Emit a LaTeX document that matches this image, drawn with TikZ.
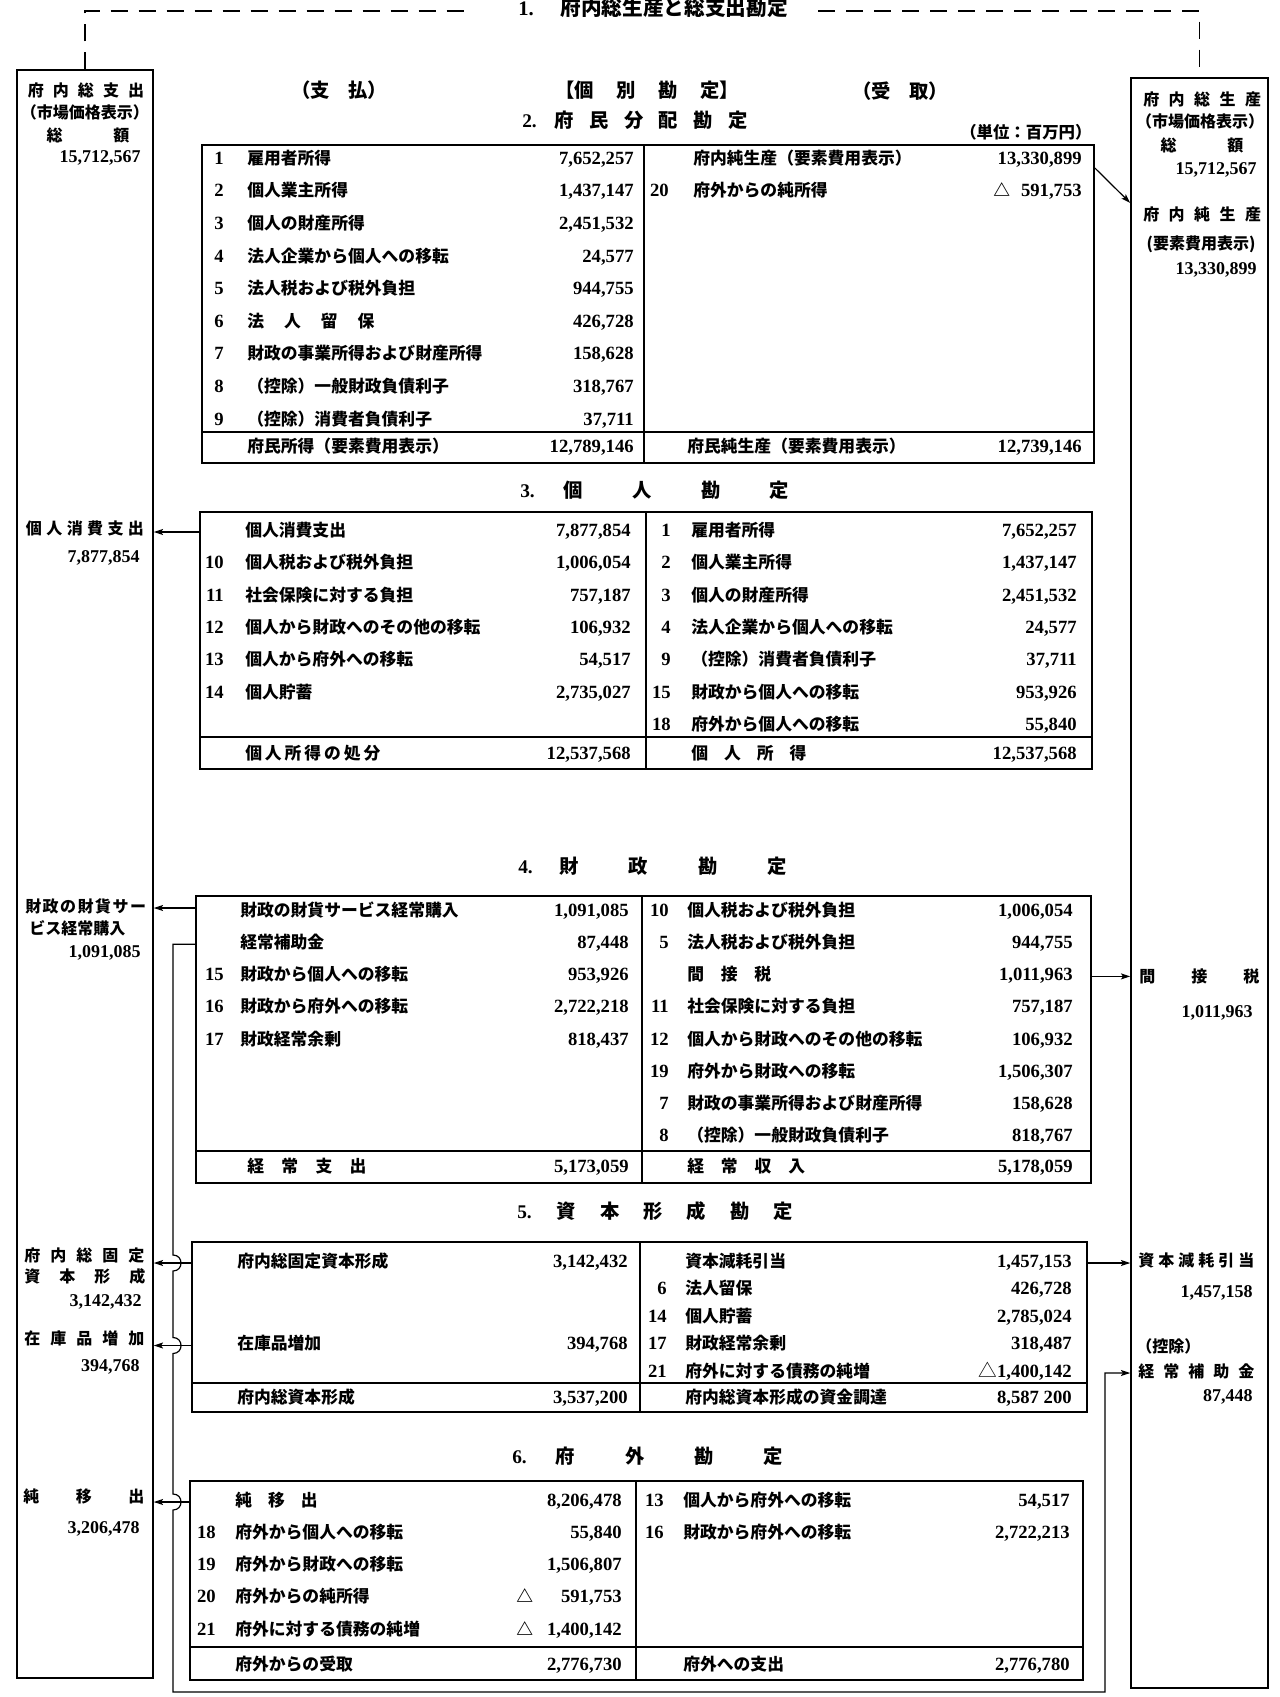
\documentclass[tikz,border=0pt]{standalone}
\usepackage{fontspec}
\setmainfont{Noto Sans CJK JP}
\newfontfamily\numfont{Liberation Serif}
\newfontfamily\jpf{Noto Sans CJK JP}
\usetikzlibrary{arrows.meta,fit}
\newcommand\gp[1]{\hspace{#1pt}}
\newcommand\acrow[8]{%
  \node[numtxt,anchor=east] (#1n) at (#3,#2) {#4};
  \node[lab,anchor=west] (#1l) at (#5,#2) {#6};
  \node[numtxt,anchor=east] (#1v) at (#7,#2) {#8};}
\begin{document}
\begin{tikzpicture}[x=0.75pt,y=-0.75pt,
  lab/.style={inner sep=0pt,text height=9pt,text depth=2.5pt,font=\fontsize{12.6pt}{14pt}\selectfont\bfseries},
  numtxt/.style={inner sep=0pt,text height=9pt,text depth=2.5pt,font=\fontsize{14pt}{16pt}\selectfont\numfont\bfseries},
  ttl/.style={inner sep=0pt,text height=10pt,text depth=2.5pt,font=\fontsize{14.5pt}{16pt}\selectfont\bfseries},
  bxt/.style={inner sep=0pt,text height=9pt,text depth=2.5pt,font=\fontsize{12pt}{14pt}\selectfont\bfseries},
  bxn/.style={inner sep=0pt,text height=9pt,text depth=2.5pt,font=\fontsize{13.5pt}{15pt}\selectfont\numfont\bfseries},
  tbl/.style={draw,line width=1.3pt,inner sep=0pt},
  sidebox/.style={draw,line width=1.1pt,inner sep=0pt},
  inner/.style={line width=1.1pt},
  arr/.style={line width=0.9pt,-{Stealth[length=7pt,width=4.5pt,inset=1.5pt]}},
  conn/.style={line width=0.9pt},
  dsh/.style={line width=1.1pt,dash pattern=on 13pt off 8pt}]
\useasboundingbox (0,0) rectangle (1280,1697);

% ---------- side boxes ----------
\coordinate (lbA) at (17,70); \coordinate (lbB) at (153,1678);
\node[sidebox,fit=(lbA)(lbB)] (lbox) {};
\coordinate (rbA) at (1131,78); \coordinate (rbB) at (1268,1688);
\node[sidebox,fit=(rbA)(rbB)] (rbox) {};

% ---------- title 1 and dashed link ----------
\node[anchor=west,inner sep=0pt,text height=10pt,text depth=2.5pt,font=\fontsize{15.5pt}{17pt}\selectfont\bfseries] (t1) at (518,10) {{\numfont 1.}\gp{20}府内総生産と総支出勘定};
\coordinate (dL) at (472,11);
\coordinate (dR) at (818,11);
\draw[dsh] (lbox.north) |- (dL);
\draw[dsh] (dR) -| (rbox.north);

% ---------- headings ----------
\node[ttl] (hpay) at (339,92) {（支\gp{14}払）};
\node[ttl,anchor=west] (hind) at (555,92) {【個\gp{17}別\gp{17}勘\gp{17}定】};
\node[ttl] (hrec) at (900,93) {（受\gp{14}取）};
\node[anchor=west,inner sep=0pt,font=\fontsize{12.3pt}{14pt}\selectfont\bfseries] (unit) at (960,132) {（単位：百万円）};

% ---------- left box texts ----------
\node[bxt] (lb1) at (86,92) {府\gp{6.8}内\gp{6.8}総\gp{6.8}支\gp{6.8}出};
\node[bxt] (lb2) at (85,114) {（市場価格表示）};
\node[bxt] (lb3) at (88,137) {総\gp{38}額};
\node[bxn,anchor=east] (lb4) at (141,158) {15,712,567};
\node[bxt] (lb5) at (85,530) {個\gp{3.3}人\gp{3.3}消\gp{3.3}費\gp{3.3}支\gp{3.3}出};
\node[bxn,anchor=east] (lb6) at (140,558) {7,877,854};
\node[bxt,anchor=west] (lb7) at (25,908) {財\gp{1.1}政\gp{1.1}の\gp{1.1}財\gp{1.1}貨\gp{1.1}サ\gp{1.1}ー};
\node[bxt,anchor=west] (lb8) at (29,930) {ビス経常購入};
\node[bxn,anchor=east] (lb9) at (141,953) {1,091,085};
\node[bxt,anchor=west] (lb10) at (24,1257) {府\gp{7.5}内\gp{7.5}総\gp{7.5}固\gp{7.5}定};
\node[bxt,anchor=west] (lb11) at (24,1278) {資\gp{14.25}本\gp{14.25}形\gp{14.25}成};
\node[bxn,anchor=east] (lb12) at (142,1302) {3,142,432};
\node[bxt,anchor=west] (lb13) at (24,1340) {在\gp{7.5}庫\gp{7.5}品\gp{7.5}増\gp{7.5}加};
\node[bxn,anchor=east] (lb14) at (140,1367) {394,768};
\node[bxt,anchor=west] (lb15) at (23,1498) {純\gp{27.4}移\gp{27.4}出};
\node[bxn,anchor=east] (lb16) at (140,1529) {3,206,478};

% ---------- right box texts ----------
\node[bxt,anchor=west] (rb1) at (1143,101) {府\gp{7.1}内\gp{7.1}総\gp{7.1}生\gp{7.1}産};
\node[bxt] (rb2) at (1200,123) {（市場価格表示）};
\node[bxt] (rb3) at (1202,147) {総\gp{38}額};
\node[bxn,anchor=east] (rb4) at (1257,170) {15,712,567};
\node[bxt,anchor=west] (rb5) at (1143,216) {府\gp{7.1}内\gp{7.1}純\gp{7.1}生\gp{7.1}産};
\node[bxt] (rb6) at (1201,245) {(要素費用表示)};
\node[bxn,anchor=east] (rb7) at (1257,270) {13,330,899};
\node[bxt,anchor=west] (rb8) at (1139,978) {間\gp{27}接\gp{27}税};
\node[bxn,anchor=east] (rb9) at (1253,1013) {1,011,963};
\node[bxt,anchor=west] (rb10) at (1138,1262) {資\gp{3}本\gp{3}減\gp{3}耗\gp{3}引\gp{3}当};
\node[bxn,anchor=east] (rb11) at (1253,1293) {1,457,158};
\node[bxt,anchor=west] (rb12) at (1136,1348) {（控除）};
\node[bxt,anchor=west] (rb13) at (1138,1373) {経\gp{6.75}常\gp{6.75}補\gp{6.75}助\gp{6.75}金};
\node[bxn,anchor=east] (rb14) at (1253,1397) {87,448};

% ---------- 2. 府民分配勘定 ----------
\node[ttl,anchor=west] (ti2) at (522,122) {{\numfont 2.}\gp{13.5}府\gp{11.5}民\gp{11.5}分\gp{11.5}配\gp{11.5}勘\gp{11.5}定};
\coordinate (t2A) at (202,145); \coordinate (t2B) at (1094,463);
\node[tbl,fit=(t2A)(t2B)] (t2) {};
\draw[inner] (644,145) -- (644,463);
\draw[inner] (202,432) -- (1094,432);
\acrow{t2l0}{160}{224}{1}{247}{雇用者所得}{634}{7,652,257}
\acrow{t2l1}{192.6}{224}{2}{247}{個人業主所得}{634}{1,437,147}
\acrow{t2l2}{225.2}{224}{3}{247}{個人の財産所得}{634}{2,451,532}
\acrow{t2l3}{257.8}{224}{4}{247}{法人企業から個人への移転}{634}{24,577}
\acrow{t2l4}{290.4}{224}{5}{247}{法人税および税外負担}{634}{944,755}
\acrow{t2l5}{323}{224}{6}{247}{法\gp{15}人\gp{15}留\gp{15}保}{634}{426,728}
\acrow{t2l6}{355.6}{224}{7}{247}{財政の事業所得および財産所得}{634}{158,628}
\acrow{t2l7}{388.2}{224}{8}{247}{（控除）一般財政負債利子}{634}{318,767}
\acrow{t2l8}{420.8}{224}{9}{247}{（控除）消費者負債利子}{634}{37,711}
\acrow{t2lt}{448}{224}{}{247}{府民所得（要素費用表示）}{634}{12,789,146}
\acrow{t2r0}{160}{669}{}{693}{府内純生産（要素費用表示）}{1082}{13,330,899}
\acrow{t2r1}{192.6}{669}{20}{693}{府外からの純所得}{1082}{591,753}
\node[lab,anchor=west] (t2tri) at (993,192.6) {△};
\acrow{t2rt}{448}{669}{}{687}{府民純生産（要素費用表示）}{1082}{12,739,146}

% ---------- 3. 個人勘定 ----------
\node[ttl,anchor=west] (ti3) at (520,492) {{\numfont 3.}\gp{21.75}個\gp{37}人\gp{37}勘\gp{37}定};
\coordinate (t3A) at (200,512); \coordinate (t3B) at (1092,769);
\node[tbl,fit=(t3A)(t3B)] (t3) {};
\draw[inner] (646,512) -- (646,769);
\draw[inner] (200,737) -- (1092,737);
\acrow{t3l0}{532}{224}{}{245}{個人消費支出}{631}{7,877,854}
\acrow{t3l1}{564.4}{224}{10}{245}{個人税および税外負担}{631}{1,006,054}
\acrow{t3l2}{596.8}{224}{11}{245}{社会保険に対する負担}{631}{757,187}
\acrow{t3l3}{629.2}{224}{12}{245}{個人から財政へのその他の移転}{631}{106,932}
\acrow{t3l4}{661.6}{224}{13}{245}{個人から府外への移転}{631}{54,517}
\acrow{t3l5}{694}{224}{14}{245}{個人貯蓄}{631}{2,735,027}
\acrow{t3lt}{755}{224}{}{245}{個\gp{2.2}人\gp{2.2}所\gp{2.2}得\gp{2.2}の\gp{2.2}処\gp{2.2}分}{631}{12,537,568}
\acrow{t3r0}{532}{671}{1}{691}{雇用者所得}{1077}{7,652,257}
\acrow{t3r1}{564.4}{671}{2}{691}{個人業主所得}{1077}{1,437,147}
\acrow{t3r2}{596.8}{671}{3}{691}{個人の財産所得}{1077}{2,451,532}
\acrow{t3r3}{629.2}{671}{4}{691}{法人企業から個人への移転}{1077}{24,577}
\acrow{t3r4}{661.6}{671}{9}{691}{（控除）消費者負債利子}{1077}{37,711}
\acrow{t3r5}{694}{671}{15}{691}{財政から個人への移転}{1077}{953,926}
\acrow{t3r6}{726.4}{671}{18}{691}{府外から個人への移転}{1077}{55,840}
\acrow{t3rt}{755}{671}{}{691}{個\gp{12}人\gp{12}所\gp{12}得}{1077}{12,537,568}

% ---------- 4. 財政勘定 ----------
\node[ttl,anchor=west] (ti4) at (518,868) {{\numfont 4.}\gp{20}財\gp{37.5}政\gp{37.5}勘\gp{37.5}定};
\coordinate (t4A) at (196,896); \coordinate (t4B) at (1091,1183);
\node[tbl,fit=(t4A)(t4B)] (t4) {};
\draw[inner] (642,896) -- (642,1183);
\draw[inner] (196,1151) -- (1091,1151);
\acrow{t4l0}{912}{224}{}{240}{財政の財貨サービス経常購入}{629}{1,091,085}
\acrow{t4l1}{944.2}{224}{}{240}{経常補助金}{629}{87,448}
\acrow{t4l2}{976.4}{224}{15}{240}{財政から個人への移転}{629}{953,926}
\acrow{t4l3}{1008.6}{224}{16}{240}{財政から府外への移転}{629}{2,722,218}
\acrow{t4l4}{1040.8}{224}{17}{240}{財政経常余剰}{629}{818,437}
\acrow{t4lt}{1168}{224}{}{247}{経\gp{13}常\gp{13}支\gp{13}出}{629}{5,173,059}
\acrow{t4r0}{912}{669}{10}{687}{個人税および税外負担}{1073}{1,006,054}
\acrow{t4r1}{944.2}{669}{5}{687}{法人税および税外負担}{1073}{944,755}
\acrow{t4r2}{976.4}{669}{}{687}{間\gp{12.6}接\gp{12.6}税}{1073}{1,011,963}
\acrow{t4r3}{1008.6}{669}{11}{687}{社会保険に対する負担}{1073}{757,187}
\acrow{t4r4}{1040.8}{669}{12}{687}{個人から財政へのその他の移転}{1073}{106,932}
\acrow{t4r5}{1073}{669}{19}{687}{府外から財政への移転}{1073}{1,506,307}
\acrow{t4r6}{1105.2}{669}{7}{687}{財政の事業所得および財産所得}{1073}{158,628}
\acrow{t4r7}{1137.4}{669}{8}{687}{（控除）一般財政負債利子}{1073}{818,767}
\acrow{t4rt}{1168}{669}{}{687}{経\gp{12.7}常\gp{12.7}収\gp{12.7}入}{1073}{5,178,059}

% ---------- 5. 資本形成勘定 ----------
\node[ttl,anchor=west] (ti5) at (517,1213) {{\numfont 5.}\gp{18.75}資\gp{18}本\gp{18}形\gp{18}成\gp{18}勘\gp{18}定};
\coordinate (t5A) at (192,1242); \coordinate (t5B) at (1087,1412);
\node[tbl,fit=(t5A)(t5B)] (t5) {};
\draw[inner] (640,1242) -- (640,1412);
\draw[inner] (192,1383) -- (1087,1383);
\acrow{t5l0}{1263}{216}{}{237}{府内総固定資本形成}{628}{3,142,432}
\acrow{t5l3}{1345.5}{216}{}{237}{在庫品増加}{628}{394,768}
\acrow{t5lt}{1399}{216}{}{237}{府内総資本形成}{628}{3,537,200}
\acrow{t5r0}{1263}{667}{}{685}{資本減耗引当}{1072}{1,457,153}
\acrow{t5r1}{1290.5}{667}{6}{685}{法人留保}{1072}{426,728}
\acrow{t5r2}{1318}{667}{14}{685}{個人貯蓄}{1072}{2,785,024}
\acrow{t5r3}{1345.5}{667}{17}{685}{財政経常余剰}{1072}{318,487}
\acrow{t5r4}{1373}{667}{21}{685}{府外に対する債務の純増}{1072}{{\jpf\mdseries △}1,400,142}
\acrow{t5rt}{1399}{667}{}{685}{府内総資本形成の資金調達}{1072}{8,587 200}

% ---------- 6. 府外勘定 ----------
\node[ttl,anchor=west] (ti6) at (512,1458) {{\numfont 6.}\gp{21.75}府\gp{37.5}外\gp{37.5}勘\gp{37.5}定};
\coordinate (t6A) at (190,1481); \coordinate (t6B) at (1083,1680);
\node[tbl,fit=(t6A)(t6B)] (t6) {};
\draw[inner] (636,1481) -- (636,1680);
\draw[inner] (190,1647) -- (1083,1647);
\acrow{t6l0}{1502}{216}{}{235}{純\gp{12}移\gp{12}出}{622}{8,206,478}
\acrow{t6l1}{1534.2}{216}{18}{235}{府外から個人への移転}{622}{55,840}
\acrow{t6l2}{1566.4}{216}{19}{235}{府外から財政への移転}{622}{1,506,807}
\acrow{t6l3}{1598.6}{216}{20}{235}{府外からの純所得}{622}{591,753}
\acrow{t6l4}{1630.8}{216}{21}{235}{府外に対する債務の純増}{622}{1,400,142}
\node[lab,anchor=west] (t6tri1) at (516,1598.6) {△};
\node[lab,anchor=west] (t6tri2) at (516,1630.8) {△};
\acrow{t6lt}{1666}{216}{}{235}{府外からの受取}{622}{2,776,730}
\acrow{t6r0}{1502}{664}{13}{683}{個人から府外への移転}{1070}{54,517}
\acrow{t6r1}{1534.2}{664}{16}{683}{財政から府外への移転}{1070}{2,722,213}
\acrow{t6rt}{1666}{664}{}{683}{府外への支出}{1070}{2,776,780}

% ---------- connectors ----------
\draw[arr] (t2.east |- 0,168) -- (rbox.west |- 0,203);
\draw[arr] (t3.west |- t3l0l) -- (lbox.east |- t3l0l);
\draw[arr] (t4.west |- 0,908) -- (lbox.east |- 0,908);
\draw[arr] (t4.east |- t4r2l) -- (rbox.west |- t4r2l);
\draw[arr] (t5.east |- t5r0l) -- (rbox.west |- t5r0l);
\draw[arr] (t5.west |- t5l0l) -- (lbox.east |- t5l0l);
\draw[arr] (t5.west |- t5l3l) -- (lbox.east |- t5l3l);
\draw[arr] (t6.west |- t6l0l) -- (lbox.east |- t6l0l);
\draw[conn,-{Stealth[length=7pt,width=4.5pt,inset=1.5pt]}]
  (t4.west |- t4l1l) -- (173,944.2) -- (173,1255)
  .. controls (183.7,1255) and (183.7,1271) .. (173,1271) -- (173,1337.5)
  .. controls (183.7,1337.5) and (183.7,1353.5) .. (173,1353.5) -- (173,1494)
  .. controls (183.7,1494) and (183.7,1510) .. (173,1510) -- (173,1692)
  -- (1105,1692) -- (1105,1373) -- (rbox.west |- 0,1373);
\end{tikzpicture}
\end{document}
